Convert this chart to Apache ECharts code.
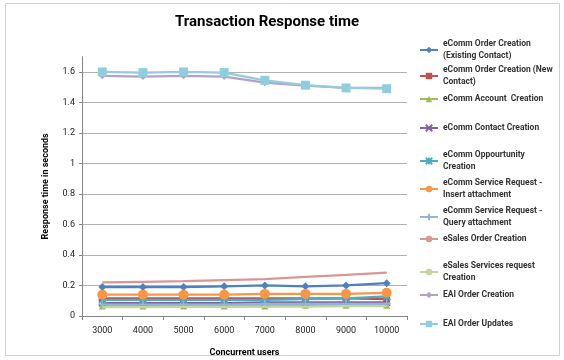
<!DOCTYPE html>
<html><head><meta charset="utf-8">
<script src="https://cdn.jsdelivr.net/npm/echarts@6/dist/echarts.min.js"></script>
<style>html,body{margin:0;padding:0;background:#fff}#c{width:564px;height:360px}</style>
</head><body><div id="c"></div>
<script>
const categories = ['3000','4000','5000','6000','7000','8000','9000','10000'];
const seriesNames = [
  'eComm Order Creation (Existing Contact)',
  'eComm Order Creation (New Contact)',
  'eComm Account  Creation',
  'eComm Contact Creation',
  'eComm Oppourtunity Creation',
  'eComm Service Request - Insert attachment',
  'eComm Service Request - Query attachment',
  'eSales Order Creation',
  'eSales Services request Creation',
  'EAI Order Creation',
  'EAI Order Updates'
];
const legendLabels = [
  'eComm Order Creation\n(Existing Contact)',
  'eComm Order Creation (New\nContact)',
  'eComm Account  Creation',
  'eComm Contact Creation',
  'eComm Oppourtunity\nCreation',
  'eComm Service Request -\nInsert attachment',
  'eComm Service Request -\nQuery attachment',
  'eSales Order Creation',
  'eSales Services request\nCreation',
  'EAI Order Creation',
  'EAI Order Updates'
];
const orderExisting   = [0.19,0.19,0.19,0.195,0.2,0.195,0.2,0.215];
const orderNew        = [0.115,0.115,0.115,0.115,0.115,0.115,0.115,0.11];
const accountCreation = [0.065,0.065,0.065,0.065,0.065,0.07,0.07,0.07];
const contactCreation = [0.085,0.085,0.085,0.085,0.09,0.09,0.09,0.09];
const opportunity     = [0.105,0.105,0.105,0.105,0.105,0.11,0.115,0.128];
const srInsert        = [0.14,0.14,0.14,0.14,0.145,0.145,0.145,0.152];
const srQuery         = [0.075,0.075,0.075,0.075,0.08,0.08,0.08,0.08];
const salesOrder      = [0.22,0.224,0.228,0.236,0.242,0.256,0.27,0.285];
const salesServices   = [0.058,0.058,0.06,0.06,0.062,0.062,0.065,0.065];
const eaiCreation     = [1.575,1.57,1.575,1.57,1.53,1.51,1.495,1.495];
const eaiUpdates      = [1.6,1.596,1.6,1.596,1.545,1.513,1.495,1.49];
const yTicks = [0,0.2,0.4,0.6,0.8,1,1.2,1.4,1.6];

const allData = [orderExisting,orderNew,accountCreation,contactCreation,opportunity,srInsert,srQuery,salesOrder,salesServices,eaiCreation,eaiUpdates];
const colors = ['#4F81BD','#C0504D','#9BBB59','#8064A2','#4BACC6','#F79646','#95B3D7','#D99694','#C3D69B','#B3A2C7','#93CDDD'];
const symbols = ['diamond','rect','triangle','path://M0,0L10,10M10,0L0,10','path://M0,0L10,10M10,0L0,10M5,0L5,10','circle','path://M5,0L5,10M0,5L10,5','none','none','diamond','rect'];
const symSizes = [8,7,7,7,7,10,8,0,0,7,9];
const legendTops = [38,64,93,122,149,177,205,233,260,289,318];

const series = seriesNames.map((n,i)=>({
  name:n, type:'line', data:allData[i], symbol:symbols[i], symbolSize:symSizes[i],
  showSymbol: symbols[i] !== 'none',
  lineStyle:{width:2.25,color:colors[i]},
  itemStyle:{color:colors[i], borderColor:colors[i], borderWidth:(i===3||i===4||i===6)?1.5:0},
  z: 10+i, animation:false
}));

const legends = seriesNames.map((n,i)=>({
  data:[n], left:419, top:legendTops[i], orient:'vertical',
  itemWidth:18, itemHeight:8, itemGap:0, padding:0,
  formatter: ()=>legendLabels[i],
  textStyle:{fontFamily:'Roboto', fontSize:8.5, fontWeight:'bold', color:'#333', lineHeight:12}
}));

const chart = echarts.init(document.getElementById('c'));
chart.setOption({
  animation:false,
  color:colors,
  title:{text:'Transaction Response time', left:262, textAlign:'center', top:10,
    textStyle:{fontFamily:'Roboto', fontSize:15, fontWeight:'bold', color:'#000'}},
  graphic:[{type:'rect', shape:{x:5.5,y:3.5,width:554,height:352}, style:{fill:'none', stroke:'#d0d0d0', lineWidth:1}, silent:true}],
  legend:legends,
  grid:{left:82, right:157, top:56.7, bottom:44, containLabel:false, outerBoundsMode:'none'},
  xAxis:{type:'category', data:categories, boundaryGap:true,
    name:'Concurrent users', nameLocation:'middle', nameGap:32,
    nameTextStyle:{fontFamily:'Roboto', fontSize:9, fontWeight:'bold', color:'#000'},
    axisLine:{lineStyle:{color:'#868686'}},
    axisTick:{show:true, alignWithLabel:false, length:4, lineStyle:{color:'#868686'}},
    axisLabel:{fontFamily:'Roboto', fontSize:9, color:'#222', margin:10}},
  yAxis:{type:'value', min:0, max:1.7, interval:0.2,
    name:'Response time in seconds', nameLocation:'middle', nameGap:32,
    nameTextStyle:{fontFamily:'Roboto', fontSize:9, fontWeight:'bold', color:'#000'},
    axisLine:{show:true, lineStyle:{color:'#868686'}},
    axisTick:{show:true, length:3, lineStyle:{color:'#868686'}},
    axisLabel:{fontFamily:'Roboto', fontSize:9, color:'#222', margin:7, showMaxLabel:false,
      formatter:v=> yTicks.some(t=>Math.abs(t-v)<1e-9) ? String(Math.round(v*10)/10) : ''},
    splitLine:{show:true, lineStyle:{color:['#b0b0b0','#b0b0b0','#b0b0b0','#b0b0b0','#b0b0b0','#b0b0b0','#b0b0b0','#b0b0b0','#b0b0b0','rgba(0,0,0,0)']}}},
  series:series
});
</script></body></html>
